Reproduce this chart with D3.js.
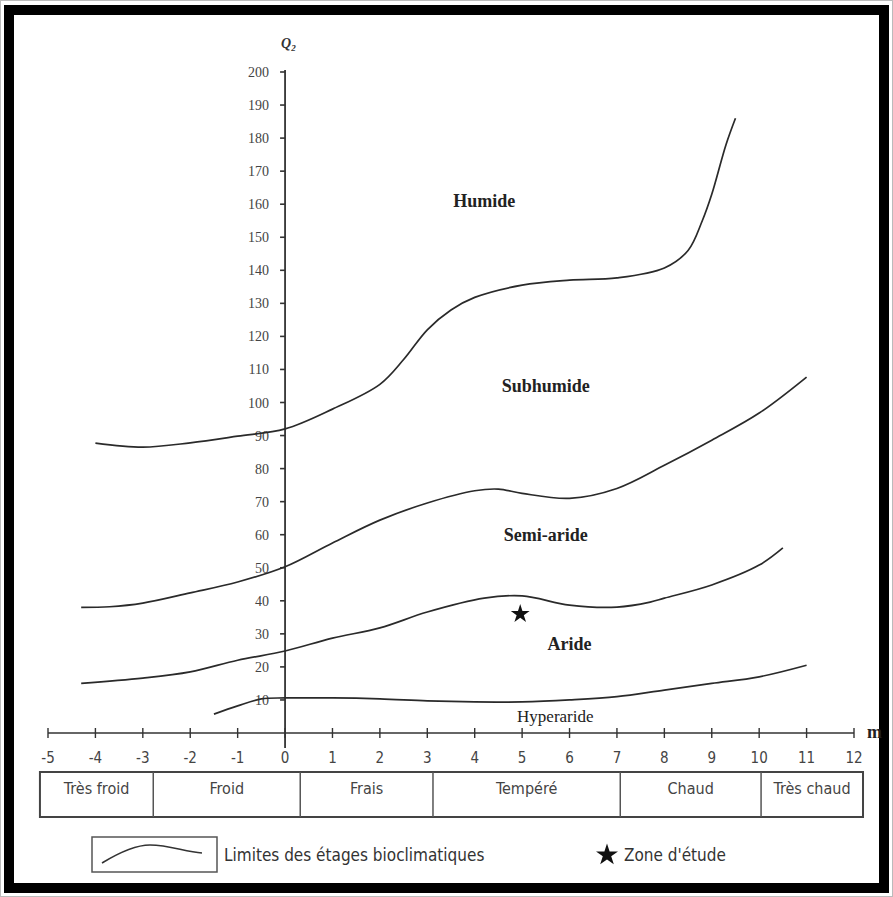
<!DOCTYPE html>
<html>
<head>
<meta charset="utf-8">
<script src="https://cdn.jsdelivr.net/npm/d3@7"></script>
<style>
  body { margin: 0; background: #fff; }
  svg { display: block; }
</style>
</head>
<body>
<div id="chart"></div>
<script>
// Climagramme d'Emberger : Q2 en fonction de m

// x ticks (m, en degres C) and y ticks (Q2)
const mTicks = d3.range(-5, 13);
const qTicks = d3.range(10, 210, 10);

// limits between the bioclimatic zones
const limHumideM = [-4, -3, -2, -1, 0, 1, 2, 2.5, 3, 3.5, 4, 5, 6, 7, 8, 8.5, 8.8, 9.0, 9.3, 9.5];
const limHumideQ = [87.7, 86.5, 87.8, 89.8, 92, 98, 105.5, 113, 122, 128, 131.8, 135.5, 137, 137.7, 140.7, 146, 155, 163, 178, 186];

const limSubhumideM = [-4.3, -3.7, -3, -2, -1, 0, 1, 2, 3, 4, 4.5, 5, 6, 7, 8, 9, 10, 11];
const limSubhumideQ = [38, 38.2, 39.3, 42.4, 45.7, 50.3, 57.5, 64.4, 69.6, 73.3, 73.8, 72.5, 71, 74, 81, 88.6, 96.8, 107.7];

const limSemiarideM = [-4.3, -3, -2, -1, 0, 1, 2, 3, 4.2, 5, 6, 7, 7.7, 8, 9, 10, 10.5];
const limSemiarideQ = [15, 16.6, 18.5, 22, 24.8, 28.7, 31.8, 36.6, 40.8, 41.5, 38.7, 38.1, 39.6, 40.8, 44.8, 50.8, 56];

const limArideM = [-1.5, -1, -0.5, 0, 1, 2, 3, 4, 5, 6, 7, 8, 9, 10, 11];
const limArideQ = [5.7, 8.2, 10.3, 10.6, 10.6, 10.3, 9.7, 9.4, 9.4, 10, 11, 13, 15, 17, 20.5];

// zone names and where they are written (m, Q2)
const zoneNames = ["Humide", "Subhumide", "Semi-aride", "Aride", "Hyperaride"];
const zoneM = [4.2, 5.5, 5.5, 6.0, 5.7];
const zoneQ = [161, 105, 60, 27, 5];

// study area
const etudeM = [4.96];
const etudeQ = [36];

// winter variants along m
const hiverNames = ["Très froid", "Froid", "Frais", "Tempéré", "Chaud", "Très chaud"];
const hiverBounds = [-5.17, -2.78, 0.32, 3.12, 7.07, 10.04, 12.19];

const width = 893;
const height = 897;

const svg = d3.select("#chart")
  .append("svg")
  .attr("width", width)
  .attr("height", height);

// thick black frame
svg.append("rect")
  .attr("x", 0.5).attr("y", 0.5)
  .attr("width", width - 1).attr("height", height - 1)
  .attr("fill", "none").attr("stroke", "#bbb");
svg.append("rect")
  .attr("x", 9).attr("y", 10)
  .attr("width", 875).attr("height", 878)
  .attr("fill", "none")
  .attr("stroke", "#000")
  .attr("stroke-width", 10);

const x = d3.scaleLinear().domain([-5, 12]).range([48, 854]);
const y = d3.scaleLinear().domain([0, 200]).range([733, 72]);

const ink = "#333";
const serif = "'Liberation Serif', 'DejaVu Serif', serif";
const narrow = "'Liberation Sans Narrow', 'DejaVu Sans Condensed', 'Liberation Sans', sans-serif";

// x axis
const xAxis = svg.append("g").attr("transform", "translate(0," + y(0) + ")");
xAxis.append("line")
  .attr("x1", x(-5)).attr("x2", x(12))
  .attr("stroke", ink).attr("stroke-width", 1.6);
xAxis.selectAll("line.tick")
  .data(mTicks)
  .enter()
  .append("line")
    .attr("class", "tick")
    .attr("x1", d => x(d)).attr("x2", d => x(d))
    .attr("y1", -5).attr("y2", 5)
    .attr("stroke", ink).attr("stroke-width", 1.4);
xAxis.selectAll("text")
  .data(mTicks)
  .enter()
  .append("text")
    .attr("x", d => x(d))
    .attr("y", 30)
    .attr("text-anchor", "middle")
    .attr("font-family", narrow)
    .attr("font-size", 15)
    .attr("fill", "#444")
    .text(d => d);
svg.append("text")
  .attr("x", 867).attr("y", y(0) + 5)
  .attr("font-family", serif)
  .attr("font-weight", "bold")
  .attr("font-size", 18)
  .attr("fill", "#222")
  .text("m");

// y axis
const yAxis = svg.append("g").attr("transform", "translate(" + x(0) + ",0)");
yAxis.append("line")
  .attr("y1", y(200) - 2).attr("y2", y(0) + 15)
  .attr("stroke", ink).attr("stroke-width", 1.8);
yAxis.selectAll("line.tick")
  .data(qTicks)
  .enter()
  .append("line")
    .attr("class", "tick")
    .attr("x1", -5).attr("x2", 0)
    .attr("y1", d => y(d)).attr("y2", d => y(d))
    .attr("stroke", ink).attr("stroke-width", 1.6);
yAxis.selectAll("text")
  .data(qTicks)
  .enter()
  .append("text")
    .attr("x", -16)
    .attr("y", d => y(d) + 5)
    .attr("text-anchor", "end")
    .attr("font-family", serif)
    .attr("font-size", 14)
    .attr("fill", "#444")
    .text(d => d);
svg.append("text")
  .attr("x", x(0) - 4).attr("y", 48)
  .attr("font-family", serif)
  .attr("font-weight", "bold")
  .attr("font-style", "italic")
  .attr("font-size", 14)
  .attr("fill", "#333")
  .text("Q")
  .append("tspan")
    .attr("font-size", 9)
    .attr("dy", 3)
    .text("2");

// limits between zones
const limites = [
  d3.zip(limHumideM, limHumideQ),
  d3.zip(limSubhumideM, limSubhumideQ),
  d3.zip(limSemiarideM, limSemiarideQ),
  d3.zip(limArideM, limArideQ)
];
const line = d3.line()
  .x(d => x(d[0]))
  .y(d => y(d[1]))
  .curve(d3.curveCatmullRom.alpha(0.5));
svg.selectAll("path.limite")
  .data(limites)
  .enter()
  .append("path")
    .attr("class", "limite")
    .attr("d", line)
    .attr("fill", "none")
    .attr("stroke", "#2a2a2a")
    .attr("stroke-width", 1.7);

// zone names
svg.selectAll("text.zone")
  .data(zoneNames)
  .enter()
  .append("text")
    .attr("class", "zone")
    .attr("x", (d, i) => x(zoneM[i]))
    .attr("y", (d, i) => y(zoneQ[i]) + 6)
    .attr("text-anchor", "middle")
    .attr("font-family", serif)
    .attr("font-weight", d => d == "Hyperaride" ? "normal" : "bold")
    .attr("font-size", d => d == "Hyperaride" ? 17 : 18)
    .attr("fill", "#222")
    .text(d => d);

// study area star
const star = d3.symbol().type(d3.symbolStar).size(110);
svg.selectAll("path.etude")
  .data(etudeM)
  .enter()
  .append("path")
    .attr("class", "etude")
    .attr("d", star)
    .attr("transform", (d, i) => "translate(" + x(d) + "," + y(etudeQ[i]) + ")")
    .attr("fill", "#111");

// winter variants table
const bandTop = 772, bandBottom = 817;
svg.append("rect")
  .attr("x", x(hiverBounds[0])).attr("y", bandTop)
  .attr("width", x(hiverBounds[hiverBounds.length - 1]) - x(hiverBounds[0]))
  .attr("height", bandBottom - bandTop)
  .attr("fill", "none").attr("stroke", "#444").attr("stroke-width", 2);
svg.selectAll("line.sep")
  .data(hiverBounds.slice(1, -1))
  .enter()
  .append("line")
    .attr("class", "sep")
    .attr("x1", d => x(d)).attr("x2", d => x(d))
    .attr("y1", bandTop).attr("y2", bandBottom)
    .attr("stroke", "#555").attr("stroke-width", 1.5);
svg.selectAll("text.hiver")
  .data(hiverNames)
  .enter()
  .append("text")
    .attr("class", "hiver")
    .attr("x", (d, i) => (x(hiverBounds[i]) + x(hiverBounds[i + 1])) / 2)
    .attr("y", bandTop + 22)
    .attr("text-anchor", "middle")
    .attr("font-family", narrow)
    .attr("font-size", 16)
    .attr("fill", "#444")
    .text(d => d);

// legend
const legend = svg.append("g");
legend.append("rect")
  .attr("x", 92).attr("y", 837)
  .attr("width", 125).attr("height", 35)
  .attr("fill", "none").attr("stroke", "#555").attr("stroke-width", 1.5);
legend.append("path")
  .attr("d", "M102,863 C120,852 135,845 150,845 C170,845 185,852 202,853")
  .attr("fill", "none").attr("stroke", "#333").attr("stroke-width", 1.6);
legend.append("text")
  .attr("x", 224).attr("y", 861)
  .attr("font-family", narrow)
  .attr("font-size", 17)
  .attr("fill", "#333")
  .text("Limites des étages bioclimatiques");
legend.append("path")
  .attr("d", d3.symbol().type(d3.symbolStar).size(150))
  .attr("transform", "translate(607,855)")
  .attr("fill", "#111");
legend.append("text")
  .attr("x", 624).attr("y", 861)
  .attr("font-family", narrow)
  .attr("font-size", 17)
  .attr("fill", "#333")
  .text("Zone d'étude");
</script>
</body>
</html>
